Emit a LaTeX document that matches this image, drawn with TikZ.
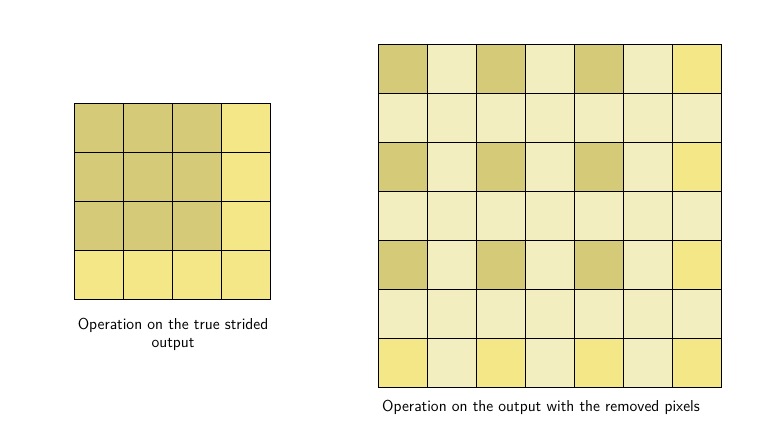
\documentclass[tikz,border=0pt]{standalone}
\usepackage{fontspec}
\setmainfont{Latin Modern Sans}
\definecolor{cdark}{RGB}{212,202,120}
\definecolor{cyel}{RGB}{243,231,136}
\definecolor{cpale}{RGB}{242,238,192}
\begin{document}
\begin{tikzpicture}[x=0.75pt,y=0.75pt,
  cell/.style={draw=black,line width=0.6pt,minimum size=36.75pt,inner sep=0pt,outer sep=0pt},
  lbl/.style={font=\fontsize{11.9}{13.5}\selectfont,align=center,inner sep=0pt}]
\useasboundingbox (0,0) rectangle (770,431);
% left grid
\foreach \r in {0,...,3}{
  \foreach \c in {0,...,3}{
    \pgfmathtruncatemacro{\isdark}{(\r<3)&&(\c<3)}
    \ifnum\isdark=1 \def\fc{cdark}\else\def\fc{cyel}\fi
    \node[cell,fill=\fc] (L\r\c) at ({74+24.5+49*\c},{431-103-24.5-49*\r}) {};
  }
}
% right grid
\foreach \r in {0,...,6}{
  \foreach \c in {0,...,6}{
    \pgfmathtruncatemacro{\re}{mod(\r,2)==0}
    \pgfmathtruncatemacro{\ce}{mod(\c,2)==0}
    \def\fc{cpale}
    \ifnum\re=1 \ifnum\ce=1
      \def\fc{cdark}
      \ifnum\r=6 \def\fc{cyel}\fi
      \ifnum\c=6 \def\fc{cyel}\fi
    \fi\fi
    \node[cell,fill=\fc] (R\r\c) at ({378+24.5+49*\c},{431-44-24.5-49*\r}) {};
  }
}
\node[lbl] (tl) at (173,{431-334}) {Operation on the true strided\\output};
\node[lbl] (tr) at (541,{431-407}) {Operation on the output with the removed pixels};
\end{tikzpicture}
\end{document}
